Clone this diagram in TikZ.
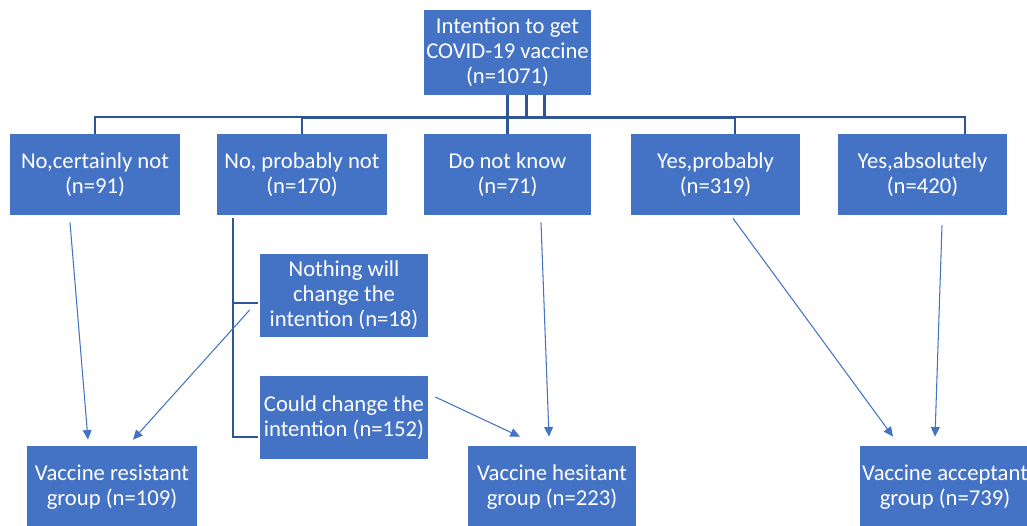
\documentclass[tikz,border=0pt]{standalone}
\usepackage{fontspec}
\setmainfont{Carlito}
\usetikzlibrary{arrows.meta}
\definecolor{boxblue}{HTML}{4472C4}
\definecolor{busblue}{HTML}{2F5597}
\newcommand{\lbl}[1]{\fontsize{12.9}{14.2}\selectfont #1}

\begin{document}
\begin{tikzpicture}[x=0.02cm, y=-0.02cm,
    groupbox/.style={fill=boxblue, text=white, align=center, inner sep=0pt,
      minimum width=3.4cm, minimum height=1.64cm, font=\lbl},
    bus/.style={draw=busblue, line width=1.2pt},
    link/.style={draw=boxblue, line width=0.6pt, -{Triangle[length=5.5pt,width=5pt]}}]
    \useasboundingbox (0,0) rectangle (1027,525);

    \node[groupbox, minimum width=3.34cm, minimum height=1.7cm] (top) at (507.5,52.5)
      {Intention to get\\COVID-19 vaccine\\(n=1071)};

    \node[groupbox, minimum height=1.62cm] (no1) at (95,174.5) {No,certainly not\\(n=91)};
    \node[groupbox, minimum height=1.62cm] (no2) at (302,174.5) {No, probably not\\(n=170)};
    \node[groupbox, minimum width=3.34cm, minimum height=1.62cm] (dnk) at (507.5,174.5) {Do not know\\(n=71)};
    \node[groupbox, minimum width=3.38cm, minimum height=1.62cm] (yes1) at (715.5,174.5) {Yes,probably\\(n=319)};
    \node[groupbox, minimum width=3.38cm, minimum height=1.62cm] (yes2) at (922.5,174.5) {Yes,absolutely\\(n=420)};

    \node[groupbox, minimum width=3.36cm, minimum height=1.66cm] (nothing) at (344,295.5)
      {Nothing will\\change the\\intention (n=18)};
    \node[groupbox, minimum width=3.36cm, minimum height=1.66cm] (could) at (344,417.5)
      {Could change the\\intention (n=152)};

    \node[groupbox] (res) at (112,487) {Vaccine resistant\\group (n=109)};
    \node[groupbox, minimum width=3.36cm] (hes) at (552,487) {Vaccine hesitant\\group (n=223)};
    \node[groupbox] (acc) at (945,487) {Vaccine acceptant\\group (n=739)};

    % connectors from the top box
    \draw[bus] (top.south) -- ++(0,22) coordinate (hub);
    \draw[bus] ([xshift=0.38cm]top.south) -- ++(0,22);
    \draw[bus] ([xshift=0.74cm]top.south) -- ++(0,22);
    \draw[bus, line width=1.6pt] (hub) -| (no2.north);
    \draw[bus, line width=1.6pt] (hub) -| ([xshift=0.39cm]yes1.north);
    \draw[bus] (hub) -- (dnk.north);
    \draw[bus] (hub) -| (no1.north);
    \draw[bus] (hub) -| ([xshift=0.85cm]yes2.north);

    % split of the "probably not" group
    \coordinate (brk) at ([xshift=-1.38cm,yshift=-0.06cm]no2.south);
    \draw[bus] (brk) |- ([xshift=-0.04cm,yshift=-0.15cm]nothing.west);
    \draw[bus] (brk) |- ([xshift=-0.04cm,yshift=-0.39cm]could.west);

    \draw[link] ([xshift=-0.5cm,yshift=-0.14cm]no1.south) -- ([xshift=-0.48cm,yshift=0.12cm]res.north);
    \draw[link] ([xshift=-0.2cm,yshift=-0.29cm]nothing.west) -- ([xshift=0.42cm,yshift=0.12cm]res.north);
    \draw[link] ([xshift=0.14cm,yshift=0.41cm]could.east) -- ([xshift=-0.64cm,yshift=0.18cm]hes.north);
    \draw[link] ([xshift=0.67cm,yshift=-0.14cm]dnk.south) -- ([xshift=-0.06cm,yshift=0.18cm]hes.north);
    \draw[link] ([xshift=0.35cm,yshift=-0.06cm]yes1.south) -- ([xshift=-1.04cm,yshift=0.18cm]acc.north);
    \draw[link] ([xshift=0.39cm,yshift=-0.2cm]yes2.south) -- ([xshift=-0.2cm,yshift=0.18cm]acc.north);
\end{tikzpicture}
\end{document}
